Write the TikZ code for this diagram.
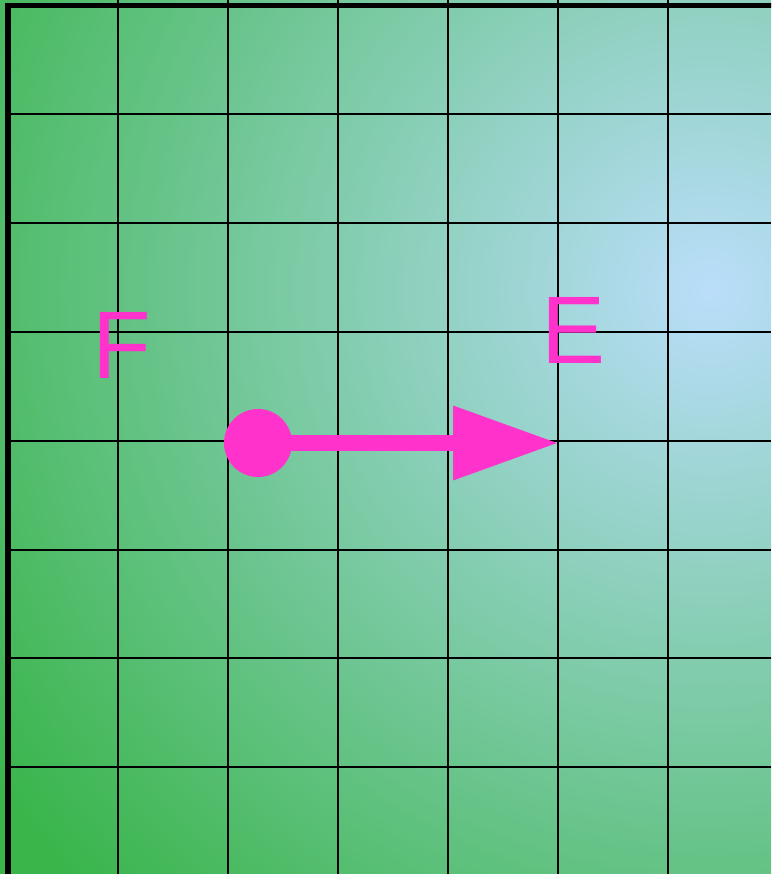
\documentclass[tikz,border=0pt]{standalone}
\usepackage{fontspec}
\setmainfont{Liberation Sans}
\usetikzlibrary{calc}
\definecolor{glow}{RGB}{186,222,250}
\definecolor{grass}{RGB}{57,181,74}
\definecolor{hotpink}{RGB}{255,51,204}
\pgfdeclareradialshading{bgglow}{\pgfpoint{0bp}{0bp}}{color(0bp)=(glow); color(21.75bp)=(grass); color(50bp)=(grass)}
\tikzset{
  gridline/.style={black, line width=2pt},
  borderline/.style={black, line width=5.5pt, line join=miter},
  dotnode/.style={circle, fill=hotpink, minimum size=68pt, inner sep=0pt},
  shaftline/.style={hotpink, line width=16pt},
  headfill/.style={fill=hotpink},
  letter/.style={text=hotpink, font=\fontsize{96}{96}\selectfont, inner sep=0pt, anchor=base west}
}
\begin{document}
\begin{tikzpicture}[x=1pt, y=-1pt]
\useasboundingbox (0,0) rectangle (771,874);
\begin{scope}
  \clip (0,0) rectangle (771,874);
  \shade[shading=bgglow] (710,290) circle (1000);
  \foreach \i in {1,...,6} {
    \draw[gridline] ({8+110*\i},0) -- ({8+110*\i},874);
  }
  \foreach \j in {1,...,7} {
    \draw[gridline] (8,{5.5+108.83*\j}) -- (771,{5.5+108.83*\j});
  }
  \draw[borderline] (8,880) -- (8,5.5) -- (780,5.5);
\end{scope}
\node[dotnode] (src) at (258,443) {};
\coordinate (tip) at (557,443);
\coordinate (headbase) at (453,443);
\draw[shaftline] (src.center) -- (headbase);
\fill[headfill] (tip) -- ($(headbase)+(0,37.5)$) -- ($(headbase)+(0,-37.5)$) -- cycle;
\node[letter] (F) at (92,378) {F};
\node[letter] (E) at (541.5,363) {E};
\end{tikzpicture}
\end{document}
